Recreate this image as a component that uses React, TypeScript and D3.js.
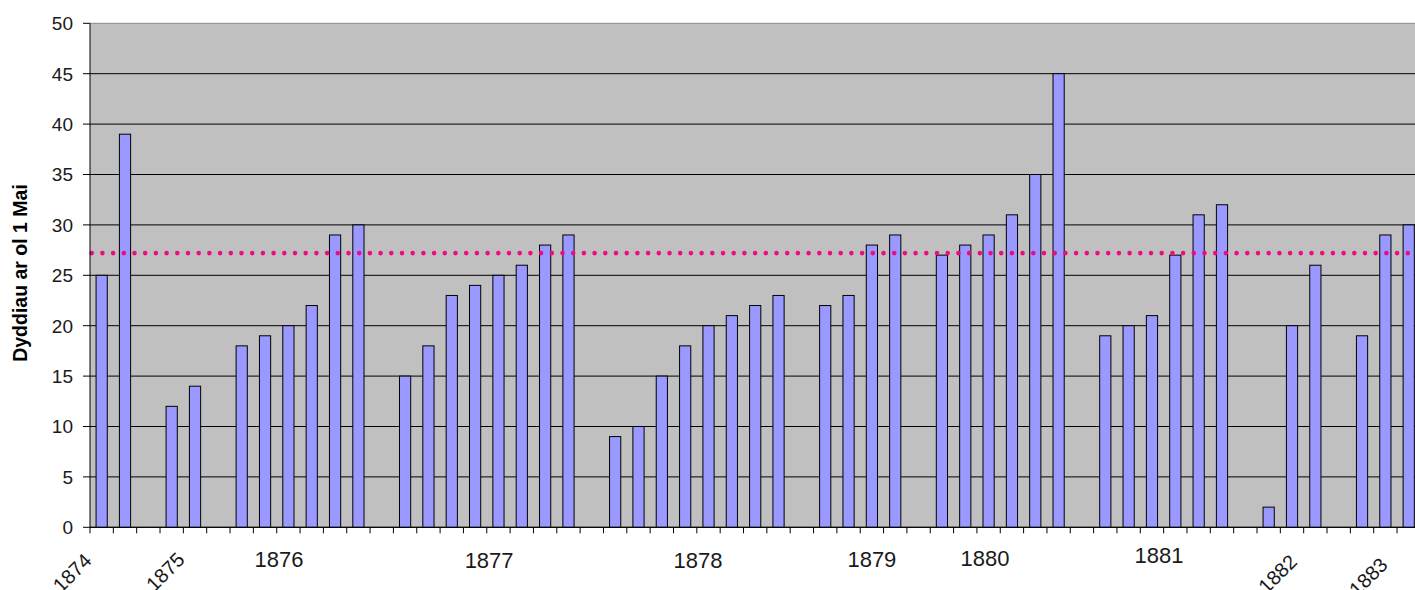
import React from "react";
import * as d3 from "d3";

// ---- data ----
// 57 observation slots (gaps are empty slots between years)
const slotValues: (number | null)[] = [
  25, 39, null, 12, 14, null, 18, 19, 20, 22, 29, 30, null,
  15, 18, 23, 24, 25, 26, 28, 29, null,
  9, 10, 15, 18, 20, 21, 22, 23, null,
  22, 23, 28, 29, null,
  27, 28, 29, 31, 35, 45, null,
  19, 20, 21, 27, 31, 32, null,
  2, 20, 26, null,
  19, 29, 30,
];
const categories = slotValues.map((_, i) => `s${i}`);
const referenceLine = 27.2;
const yTicks = [0, 5, 10, 15, 20, 25, 30, 35, 40, 45, 50];
const yearLabels = ["1874", "1875", "1876", "1877", "1878", "1879", "1880", "1881", "1882", "1883"];
const yTitle = "Dyddiau ar ol 1 Mai";

// ---- layout ----
const W = 1415;
const H = 590;
const left = 90;
const step = 23.34;
const top = 23.3;
const bottom = 527.3;
// label placement in slot units (layout, not data)
const yearLayout = [
  { s: 0.12, y: 562, rot: true },
  { s: 4.11, y: 561, rot: true },
  { s: 8.1, y: 567, rot: false },
  { s: 17.1, y: 568, rot: false },
  { s: 26.05, y: 568, rot: false },
  { s: 33.5, y: 567, rot: false },
  { s: 38.35, y: 566, rot: false },
  { s: 45.8, y: 563, rot: false },
  { s: 51.77, y: 563, rot: true },
  { s: 55.65, y: 566, rot: true },
];

export default function App() {
  const x = d3
    .scaleBand<string>()
    .domain(categories)
    .range([left, left + categories.length * step])
    .padding(0);
  const y = d3.scaleLinear().domain([0, 50]).range([bottom, top]);
  const slotX = d3.scaleLinear().domain([0, categories.length]).range([left, left + categories.length * step]);
  const bw = x.bandwidth() * 0.48;
  const font = "'Liberation Sans', Arial, sans-serif";
  const textColor = "#1a1a1a";

  return (
    <svg
      width={W}
      height={H}
      style={{ position: "absolute", left: 0, top: 0, background: "#fff" }}
      fontFamily={font}
    >
      <rect x={left} y={top} width={W - left} height={bottom - top} fill="#c0c0c0" />
      {/* gridlines */}
      {yTicks.map((t) => (
        <line
          key={"g" + t}
          x1={left}
          x2={W}
          y1={y(t)}
          y2={y(t)}
          stroke={t === 50 ? "#8a8a8a" : "#000"}
          strokeWidth={1}
        />
      ))}
      {/* bars */}
      {slotValues.map((v, i) =>
        v == null ? null : (
          <rect
            key={"b" + i}
            x={(x(categories[i]) as number) + (x.bandwidth() - bw) / 2}
            y={y(v)}
            width={bw}
            height={y(0) - y(v)}
            fill="#9999ff"
            stroke="#000"
            strokeWidth={1}
          />
        )
      )}
      {/* reference dotted line */}
      <line
        x1={left + 1.7}
        x2={W}
        y1={y(referenceLine)}
        y2={y(referenceLine)}
        stroke="#ec0c80"
        strokeWidth={4.6}
        strokeLinecap="round"
        strokeDasharray="0 10.7"
      />
      {/* axes */}
      <line x1={left} x2={left} y1={top} y2={bottom} stroke="#000" strokeWidth={1} />
      <line x1={left} x2={W} y1={bottom} y2={bottom} stroke="#000" strokeWidth={1} />
      {yTicks.map((t) => (
        <g key={"yt" + t}>
          <line x1={left - 7} x2={left} y1={y(t)} y2={y(t)} stroke="#000" />
          <text
            x={73}
            y={y(t)}
            dy="0.36em"
            textAnchor="end"
            fontSize={19}
            fill={textColor}
          >
            {t}
          </text>
        </g>
      ))}
      {d3.range(categories.length + 1).map((i) => (
        <line
          key={"xt" + i}
          x1={slotX(i)}
          x2={slotX(i)}
          y1={bottom}
          y2={bottom + 6}
          stroke="#000"
        />
      ))}
      {/* year labels */}
      {yearLabels.map((lab, i) => {
        const L = yearLayout[i];
        const px = slotX(L.s);
        return L.rot ? (
          <text
            key={lab}
            x={px}
            y={L.y}
            textAnchor="end"
            fontSize={20}
            fill={textColor}
            transform={`rotate(-45 ${px} ${L.y})`}
          >
            {lab}
          </text>
        ) : (
          <text key={lab} x={px} y={L.y} textAnchor="middle" fontSize={22} fill={textColor}>
            {lab}
          </text>
        );
      })}
      {/* y title */}
      <text
        x={0}
        y={0}
        transform={`translate(27, 273) rotate(-90)`}
        textAnchor="middle"
        fontSize={19.5}
        fontWeight="bold"
        fill="#000"
      >
        {yTitle}
      </text>
    </svg>
  );
}
